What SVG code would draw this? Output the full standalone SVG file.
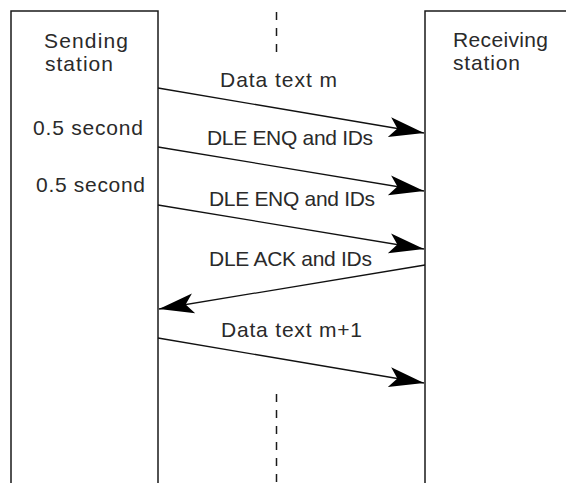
<svg xmlns="http://www.w3.org/2000/svg" width="566" height="483" viewBox="0 0 566 483">
<defs>
<style>
.box{fill:none;stroke:#1a1a1a;stroke-width:1.5}
.dash{stroke:#1a1a1a;stroke-width:1.5;stroke-dasharray:8 8}
.msg{stroke:#111;stroke-width:1.3;fill:none;marker-end:url(#ah)}
text{font-family:"Liberation Sans",Arial,sans-serif;font-size:21px;fill:#2a2a2a}
</style>
<marker id="ah" markerUnits="userSpaceOnUse" orient="auto" refX="0" refY="0" markerWidth="40" markerHeight="24" viewBox="-36 -12 38 24" overflow="visible">
<path d="M0,0 L-35,-10 L-27,0 L-35,10 Z" fill="#000"/>
</marker>
</defs>
<rect width="566" height="483" fill="#fff"/>
<g id="sending-station">
<path class="box" d="M11,490 V11 H158 V490"/>
<text x="44" y="48" textLength="84" lengthAdjust="spacing">Sending</text>
<text x="45" y="71" textLength="68" lengthAdjust="spacing">station</text>
<text x="33" y="135" textLength="110" lengthAdjust="spacing">0.5 second</text>
<text x="36" y="192" textLength="109" lengthAdjust="spacing">0.5 second</text>
</g>
<g id="receiving-station">
<path class="box" d="M425,490 V11 H570"/>
<text x="453" y="47" textLength="95" lengthAdjust="spacing">Receiving</text>
<text x="453" y="70" textLength="67" lengthAdjust="spacing">station</text>
</g>
<g id="midline">
<line class="dash" x1="276.5" y1="12" x2="276.5" y2="56"/>
<line class="dash" x1="276.5" y1="394" x2="276.5" y2="483"/>
</g>
<g id="connectors">
<line class="msg" x1="158" y1="88" x2="424" y2="133"/>
<line class="msg" x1="158" y1="147" x2="424" y2="191"/>
<line class="msg" x1="158" y1="205" x2="424" y2="249"/>
<line class="msg" x1="425" y1="265" x2="159" y2="309"/>
<line class="msg" x1="158" y1="338" x2="424" y2="383"/>
<text x="220" y="87" textLength="117" lengthAdjust="spacing">Data text m</text>
<text x="207" y="145" textLength="166" lengthAdjust="spacing">DLE ENQ and IDs</text>
<text x="209" y="206" textLength="166" lengthAdjust="spacing">DLE ENQ and IDs</text>
<text x="209" y="266" textLength="163" lengthAdjust="spacing">DLE ACK and IDs</text>
<text x="221" y="337" textLength="141" lengthAdjust="spacing">Data text m+1</text>
</g>
</svg>
